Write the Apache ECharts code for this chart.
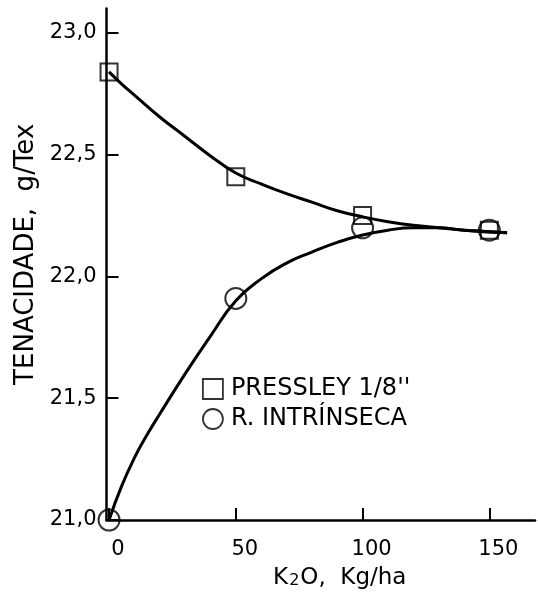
<!DOCTYPE html>
<html>
<head>
<meta charset="utf-8">
<script src="https://cdn.jsdelivr.net/npm/echarts@6/dist/echarts.min.js"></script>
<style>html,body{margin:0;padding:0;background:#fff;}#c{width:538px;height:599px;}</style>
</head>
<body>
<div id="c"></div>
<script>
// Measured points
var pressleyPoints = [[0, 22.84], [50, 22.41], [100, 22.25], [150, 22.19]];
var intrinsecaPoints = [[0, 21.0], [50, 21.91], [100, 22.20], [150, 22.19]];
// Fitted curves as drawn in the figure
var pressleyCurve = [[0, 22.84], [5, 22.79], [10, 22.745], [20, 22.655], [30, 22.575], [40, 22.495], [50, 22.425], [60, 22.38], [70, 22.34], [80, 22.305], [90, 22.27], [100, 22.245], [110, 22.225], [120, 22.21], [130, 22.20], [140, 22.19], [157, 22.18]];
var intrinsecaCurve = [[0, 21.0], [5, 21.14], [10, 21.255], [15, 21.35], [20, 21.435], [30, 21.60], [40, 21.755], [50, 21.90], [60, 21.99], [70, 22.055], [80, 22.10], [90, 22.14], [100, 22.17], [110, 22.19], [120, 22.20], [130, 22.20], [140, 22.19], [157, 22.18]];
var xTicks = [0, 50, 100, 150];
var yTicks = [21.0, 21.5, 22.0, 22.5, 23.0];
var seriesNames = ["PRESSLEY 1/8''", 'R. INTRÍNSECA'];

var FONT = 'DejaVu Sans';
var chart = echarts.init(document.getElementById('c'));
chart.setOption({
  animation: false,
  backgroundColor: '#fff',
  textStyle: {fontFamily: FONT, color: '#000'},
  grid: {left: 106.5, right: 3, top: 8.6, bottom: 79, containLabel: false},
  legend: {
    orient: 'vertical', left: 197, top: 372, itemGap: 6, itemWidth: 20, itemHeight: 20,
    data: [
      {name: seriesNames[0], icon: 'rect', itemStyle: {color: 'transparent', borderColor: '#000', borderWidth: 1.8}},
      {name: seriesNames[1], icon: 'circle', itemStyle: {color: 'transparent', borderColor: '#000', borderWidth: 1.8}}
    ],
    textStyle: {fontFamily: FONT, fontSize: 24, color: '#000', padding: [0, 0, 0, 3]}
  },
  xAxis: {
    type: 'value', min: -1, max: 168,
    axisLine: {onZero: false, lineStyle: {color: '#000', width: 2.5}},
    axisTick: {inside: true, length: 12, lineStyle: {color: '#000', width: 2}, customValues: xTicks},
    axisLabel: {customValues: xTicks, fontFamily: FONT, fontSize: 21, color: '#000', margin: 19, padding: [0, 0, 0, 18]},
    splitLine: {show: false},
    name: '{a|K}{s|2}{a|O,  Kg/ha}', nameLocation: 'middle', nameGap: 45,
    nameTextStyle: {
      padding: [0, 0, 0, 38],
      rich: {
        a: {fontFamily: FONT, fontSize: 23, color: '#000', lineHeight: 26},
        s: {fontFamily: FONT, fontSize: 16, color: '#000', lineHeight: 26, padding: [6, 1, 0, 1]}
      }
    }
  },
  yAxis: {
    type: 'value', min: 21.0, max: 23.1,
    axisLine: {onZero: false, lineStyle: {color: '#000', width: 2.5}},
    axisTick: {inside: true, length: 12, lineStyle: {color: '#000', width: 2}, customValues: yTicks},
    axisLabel: {customValues: yTicks, fontFamily: FONT, fontSize: 21, color: '#000', margin: 10,
      formatter: function (v) { return v.toFixed(1).replace('.', ','); }},
    splitLine: {show: false},
    name: 'TENACIDADE,  g/Tex', nameLocation: 'middle', nameRotate: 90, nameGap: 64,
    nameTextStyle: {fontFamily: FONT, fontSize: 26, color: '#000', padding: [0, 0, 0, 20]}
  },
  series: [
    {type: 'line', data: pressleyCurve, smooth: 0.5, showSymbol: false, symbol: 'none',
      lineStyle: {color: '#000', width: 3}, z: 2, silent: true, legendHoverLink: false},
    {type: 'line', data: intrinsecaCurve, smooth: 0.5, showSymbol: false, symbol: 'none',
      lineStyle: {color: '#000', width: 3}, z: 2, silent: true, legendHoverLink: false},
    {name: seriesNames[0], type: 'scatter', data: pressleyPoints, symbol: 'rect', symbolSize: 17,
      itemStyle: {color: 'transparent', borderColor: '#000', borderWidth: 2}, z: 3},
    {name: seriesNames[1], type: 'scatter', data: intrinsecaPoints, symbol: 'circle', symbolSize: 21,
      itemStyle: {color: 'transparent', borderColor: '#000', borderWidth: 2}, z: 3}
  ]
});
</script>
</body>
</html>
